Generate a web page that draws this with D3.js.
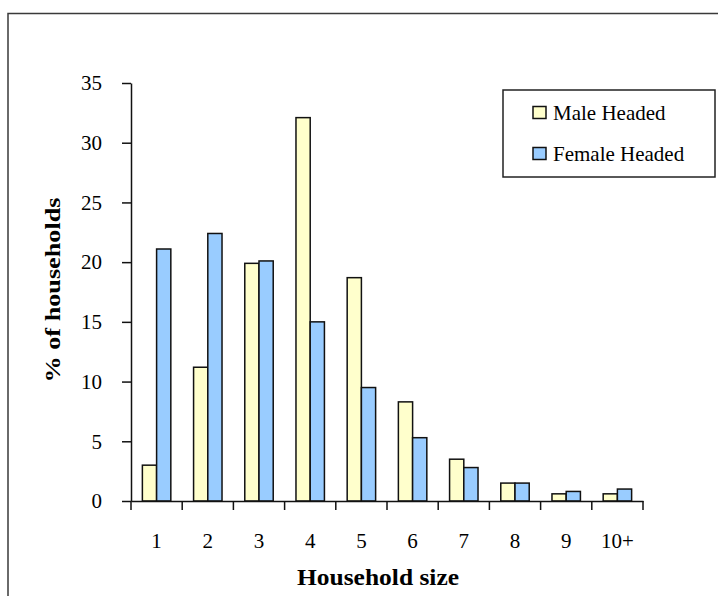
<!DOCTYPE html>
<html>
<head>
<meta charset="utf-8">
<script src="https://cdn.jsdelivr.net/npm/d3@7"></script>
<style>
  body { margin: 0; background: #fff; }
  svg text { font-family: "Liberation Serif", "DejaVu Serif", serif; fill: #000; }
</style>
</head>
<body>
<div id="chart"></div>
<script>
// Data
var sizes = ["1", "2", "3", "4", "5", "6", "7", "8", "9", "10+"];
var seriesNames = ["Male Headed", "Female Headed"];
var maleHeaded = [3.0, 11.2, 19.9, 32.1, 18.7, 8.3, 3.5, 1.5, 0.6, 0.6];
var femaleHeaded = [21.1, 22.4, 20.1, 15.0, 9.5, 5.3, 2.8, 1.5, 0.8, 1.0];
var yTicks = [0, 5, 10, 15, 20, 25, 30, 35];

var colors = ["#FFFFCC", "#99CCFF"];
var serif = "Liberation Serif, DejaVu Serif, serif";

var svgWidth = 718;
var svgHeight = 596;

var margin = {
    top: 83,
    left: 131,
    right: 75,
    bottom: 95
};

var width = svgWidth - margin.left - margin.right;   // ~512
var height = svgHeight - margin.top - margin.bottom; // ~418

var svg = d3.select("#chart")
    .append("svg")
    .attr("width", svgWidth)
    .attr("height", svgHeight)
    .attr("font-family", serif);

svg.append("rect")
    .attr("width", svgWidth)
    .attr("height", svgHeight)
    .attr("fill", "#fff");

// outer frame (runs off the right and bottom edges)
svg.append("rect")
    .attr("x", 8)
    .attr("y", 13.5)
    .attr("width", svgWidth + 20)
    .attr("height", svgHeight + 20)
    .attr("fill", "none")
    .attr("stroke", "#3a3a3a")
    .attr("stroke-width", 1.5);

var chartGroup = svg.append("g")
    .attr("transform", `translate(${margin.left}, ${margin.top})`);

var rows = sizes.map(function(s, i) {
    return { size: s, values: [maleHeaded[i], femaleHeaded[i]] };
});

var x0 = d3.scaleBand()
    .domain(sizes)
    .range([0, width])
    .paddingInner(0)
    .paddingOuter(0);

var x1 = d3.scaleBand()
    .domain([0, 1])
    .range([0, x0.bandwidth()])
    .paddingInner(0)
    .paddingOuter(0.8);

var y = d3.scaleLinear()
    .domain([0, 35])
    .range([height, 0]);

// bars
var groups = chartGroup.selectAll(".grp")
    .data(rows)
    .enter()
    .append("g")
    .attr("class", "grp")
    .attr("transform", d => `translate(${x0(d.size)}, 0)`);

groups.selectAll("rect")
    .data(d => d.values.map((v, i) => ({ i: i, v: v })))
    .enter()
    .append("rect")
    .attr("x", d => x1(d.i))
    .attr("y", d => y(d.v))
    .attr("width", x1.bandwidth())
    .attr("height", d => height - y(d.v))
    .attr("fill", d => colors[d.i])
    .attr("stroke", "#111")
    .attr("stroke-width", 1.5);

// y axis
var leftAxis = d3.axisLeft(y)
    .tickValues(yTicks)
    .tickSize(9)
    .tickSizeOuter(0)
    .tickPadding(20);

var yAxis = chartGroup.append("g")
    .call(leftAxis)
    .attr("font-family", serif)
    .attr("font-size", 21);
yAxis.select(".domain").attr("stroke", "#111").attr("stroke-width", 1.5);
yAxis.selectAll(".tick line").attr("stroke", "#111").attr("stroke-width", 1.5);

// x axis: labels centered in bands, ticks on band edges
var bottomAxis = d3.axisBottom(x0)
    .tickSize(0)
    .tickSizeOuter(0)
    .tickPadding(32);

var xAxis = chartGroup.append("g")
    .attr("transform", `translate(0, ${height})`)
    .call(bottomAxis)
    .attr("font-family", serif)
    .attr("font-size", 21);
xAxis.select(".domain").attr("stroke", "#111").attr("stroke-width", 1.5);

var edges = sizes.map(s => x0(s)).concat([x0.range()[1]]);
xAxis.selectAll(".edge")
    .data(edges)
    .enter()
    .append("line")
    .attr("class", "edge")
    .attr("x1", d => d)
    .attr("x2", d => d)
    .attr("y1", 0)
    .attr("y2", 9)
    .attr("stroke", "#111")
    .attr("stroke-width", 1.5);

// axis titles
chartGroup.append("text")
    .attr("x", width / 2 - 9)
    .attr("y", height + 84)
    .attr("text-anchor", "middle")
    .attr("font-size", "23px")
    .attr("font-weight", "bold")
    .attr("textLength", 162)
    .attr("lengthAdjust", "spacingAndGlyphs")
    .text("Household size");

chartGroup.append("text")
    .attr("transform", "rotate(-90)")
    .attr("x", -(290 - margin.top))
    .attr("y", 60 - margin.left)
    .attr("text-anchor", "middle")
    .attr("font-size", "22px")
    .attr("font-weight", "bold")
    .attr("textLength", 185)
    .attr("lengthAdjust", "spacingAndGlyphs")
    .text("% of households");

// legend
var legend = svg.append("g");

legend.append("rect")
    .attr("x", 503)
    .attr("y", 90)
    .attr("width", 212)
    .attr("height", 87)
    .attr("fill", "#fff")
    .attr("stroke", "#222")
    .attr("stroke-width", 1.5);

var legendItems = legend.selectAll(".item")
    .data(seriesNames)
    .enter()
    .append("g")
    .attr("class", "item")
    .attr("transform", (d, i) => `translate(533, ${106.5 + i * 41})`);

legendItems.append("rect")
    .attr("width", 13)
    .attr("height", 12)
    .attr("fill", (d, i) => colors[i])
    .attr("stroke", "#111")
    .attr("stroke-width", 1.5);

legendItems.append("text")
    .attr("x", 20)
    .attr("y", 6)
    .attr("dy", "0.35em")
    .attr("font-size", "21px")
    .attr("font-family", serif)
    .text(d => d);
</script>
</body>
</html>
